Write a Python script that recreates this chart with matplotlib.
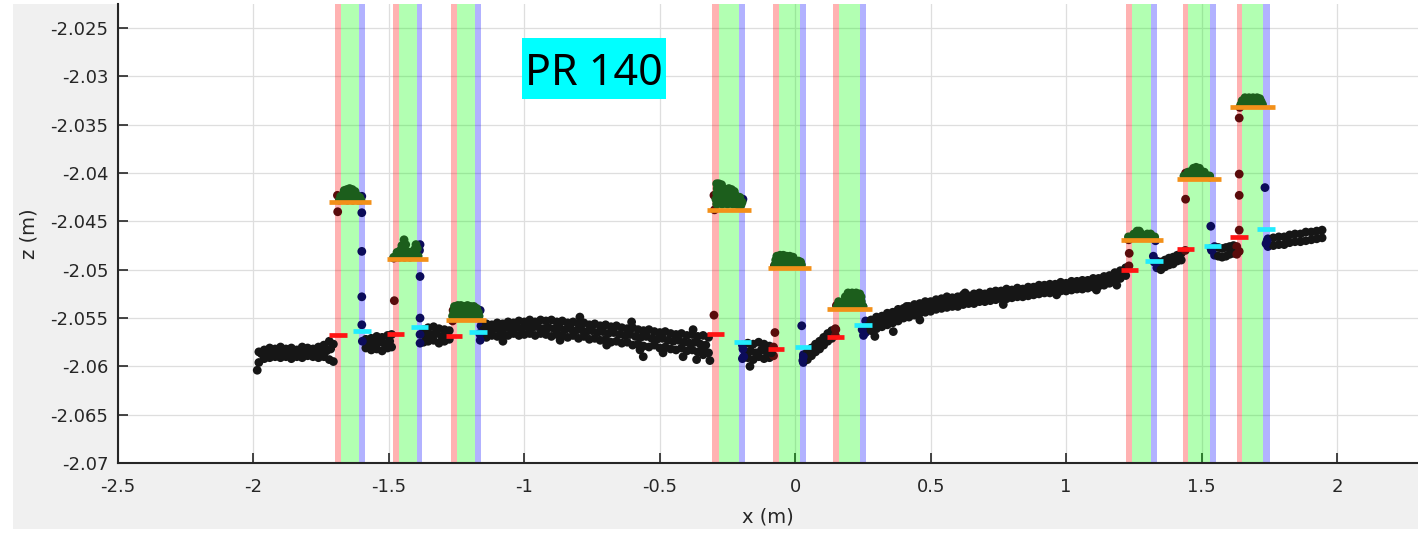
import matplotlib
matplotlib.use("Agg")
import matplotlib.pyplot as plt
from matplotlib.patches import Rectangle

# ------------------------------------------------------------------ data
x_ticks = [-2.5, -2, -1.5, -1, -0.5, 0, 0.5, 1, 1.5, 2]
x_tick_labels = ["-2.5", "-2", "-1.5", "-1", "-0.5", "0", "0.5", "1", "1.5", "2"]
z_ticks = [-2.07, -2.065, -2.06, -2.055, -2.05, -2.045, -2.04, -2.035, -2.03, -2.025]
z_tick_labels = ["-2.07", "-2.065", "-2.06", "-2.055", "-2.05", "-2.045",
                 "-2.04", "-2.035", "-2.03", "-2.025"]
x_range = [-2.5, 2.299]
z_range = [-2.07, -2.0225]

# shaded zones per feature (red | green | blue)
band_red_start = [-1.699, -1.486, -1.272, -0.306, -0.081, 0.138, 1.221, 1.430, 1.629]
band_green_start = [-1.675, -1.463, -1.250, -0.282, -0.060, 0.161, 1.244, 1.451, 1.650]
band_blue_start = [-1.610, -1.398, -1.182, -0.207, 0.018, 0.239, 1.313, 1.531, 1.727]
band_blue_end = [-1.588, -1.376, -1.160, -0.186, 0.040, 0.260, 1.336, 1.552, 1.752]

# top level (orange), left base (red), right base (cyan)
top_z = [-2.0430, -2.0489, -2.0552, -2.0438, -2.0498, -2.0541, -2.0469, -2.0406, -2.0332]
top_x0 = [-1.720, -1.506, -1.291, -0.325, -0.102, 0.119, 1.201, 1.410, 1.606]
top_x1 = [-1.567, -1.357, -1.143, -0.165, 0.060, 0.282, 1.358, 1.570, 1.772]
left_z = [-2.0568, -2.0567, -2.0569, -2.0566, -2.0582, -2.0570, -2.0500, -2.0479, -2.0466]
left_x0 = [-1.720, -1.506, -1.291, -0.325, -0.102, 0.119, 1.201, 1.410, 1.606]
left_x1 = [-1.653, -1.443, -1.230, -0.262, -0.041, 0.181, 1.266, 1.473, 1.670]
right_z = [-2.0563, -2.0559, -2.0564, -2.0575, -2.0580, -2.0557, -2.0491, -2.0475, -2.0458]
right_x0 = [-1.633, -1.418, -1.204, -0.226, -0.001, 0.218, 1.293, 1.509, 1.705]
right_x1 = [-1.566, -1.357, -1.139, -0.165, 0.060, 0.282, 1.358, 1.570, 1.772]

# ground profile: stations with an upper and a lower point
ground_x = [
    -1.98, -1.96, -1.94, -1.92, -1.90, -1.88, -1.86, -1.84, -1.82, -1.80, -1.78, -1.76, -1.74, -1.72, -1.705,
    -1.585, -1.565, -1.545, -1.525, -1.505, -1.49,
    -1.372, -1.355, -1.335, -1.315, -1.295, -1.277,
    -1.16, -1.14, -1.12, -1.10, -1.08, -1.06, -1.04, -1.02, -1.00, -0.98,
    -0.96, -0.94, -0.92, -0.90, -0.88, -0.86, -0.84, -0.82, -0.80, -0.78,
    -0.76, -0.74, -0.72, -0.70, -0.68, -0.66, -0.64, -0.62, -0.60, -0.58,
    -0.56, -0.54, -0.52, -0.50, -0.48, -0.46, -0.44, -0.42, -0.40, -0.38,
    -0.36, -0.34, -0.32,
    -0.195, -0.175, -0.155, -0.135, -0.115, -0.095, -0.08,
    0.03, 0.045, 0.06, 0.075, 0.09, 0.105, 0.12, 0.135, 0.148,
    0.26, 0.28, 0.30, 0.32, 0.34, 0.36, 0.38, 0.40, 0.42, 0.44,
    0.46, 0.48, 0.50, 0.52, 0.54, 0.56, 0.58, 0.60, 0.62, 0.64,
    0.66, 0.68, 0.70, 0.72, 0.74, 0.76, 0.78, 0.80, 0.82, 0.84,
    0.86, 0.88, 0.90, 0.92, 0.94, 0.96, 0.98, 1.00, 1.02, 1.04,
    1.06, 1.08, 1.10, 1.12, 1.14, 1.16, 1.18, 1.20, 1.22,
    1.335, 1.35, 1.365, 1.38, 1.395, 1.41, 1.425,
    1.548, 1.562, 1.576, 1.590, 1.604, 1.618, 1.630,
    1.745, 1.765, 1.785, 1.805, 1.825, 1.845, 1.865, 1.885, 1.905, 1.925, 1.945,
]
ground_z_upper = [
    -2.0585, -2.0583, -2.0581, -2.0582, -2.0580, -2.0582, -2.0581, -2.0583, -2.0580, -2.0581, -2.0582, -2.0580, -2.0578, -2.0574, -2.0577,
    -2.0572, -2.0571, -2.0569, -2.0570, -2.0568, -2.0567,
    -2.0562, -2.0560, -2.0559, -2.0561, -2.0562, -2.0563,
    -2.0558, -2.0556, -2.0557, -2.0555, -2.0556, -2.0554, -2.0555, -2.0553, -2.0554, -2.0552,
    -2.0554, -2.0552, -2.0553, -2.0552, -2.0554, -2.0553, -2.0555, -2.0554, -2.0556, -2.0555,
    -2.0557, -2.0556, -2.0558, -2.0557, -2.0559, -2.0558, -2.0560, -2.0561, -2.0560, -2.0562,
    -2.0563, -2.0562, -2.0564, -2.0565, -2.0564, -2.0566, -2.0567, -2.0566, -2.0568, -2.0567,
    -2.0569, -2.0568, -2.0570,
    -2.0578, -2.0576, -2.0577, -2.0575, -2.0577, -2.0579, -2.0580,
    -2.0588, -2.0585, -2.0581, -2.0577, -2.0574, -2.0570, -2.0566, -2.0563, -2.0561,
    -2.0553, -2.0552, -2.0549, -2.0548, -2.0545, -2.0544, -2.0541, -2.0540, -2.0538, -2.0536,
    -2.0535, -2.0533, -2.0533, -2.0531, -2.0530, -2.0528, -2.0529, -2.0528, -2.0526, -2.0527,
    -2.0525, -2.0524, -2.0525, -2.0523, -2.0522, -2.0522, -2.0520, -2.0521, -2.0519, -2.0520,
    -2.0518, -2.0518, -2.0516, -2.0516, -2.0515, -2.0515, -2.0513, -2.0514, -2.0512, -2.0512,
    -2.0511, -2.0511, -2.0509, -2.0509, -2.0507, -2.0506, -2.0503, -2.0501, -2.0498,
    -2.0491, -2.0492, -2.0490, -2.0488, -2.0487, -2.0485, -2.0483,
    -2.0476, -2.0477, -2.0478, -2.0477, -2.0476, -2.0475, -2.0476,
    -2.0468, -2.0467, -2.0466, -2.0466, -2.0464, -2.0463, -2.0463, -2.0461, -2.0461, -2.0460, -2.0459,
]
ground_z_lower = [
    -2.0596, -2.0592, -2.0591, -2.0590, -2.0591, -2.0590, -2.0592, -2.0590, -2.0591, -2.0589, -2.0590, -2.0591, -2.0590, -2.0593, -2.0595,
    -2.0581, -2.0583, -2.0582, -2.0584, -2.0581, -2.0580,
    -2.0575, -2.0574, -2.0573, -2.0576, -2.0574, -2.0572,
    -2.0569, -2.0570, -2.0568, -2.0569, -2.0567, -2.0568, -2.0566, -2.0568, -2.0567, -2.0566,
    -2.0568, -2.0566, -2.0567, -2.0569, -2.0567, -2.0568, -2.0570, -2.0568, -2.0571, -2.0569,
    -2.0572, -2.0571, -2.0573, -2.0572, -2.0575, -2.0574, -2.0576, -2.0575, -2.0578, -2.0577,
    -2.0579, -2.0580, -2.0578, -2.0581, -2.0580, -2.0582, -2.0583, -2.0581, -2.0584, -2.0583,
    -2.0585, -2.0584, -2.0586,
    -2.0592, -2.0591, -2.0593, -2.0590, -2.0592, -2.0591, -2.0589,
    -2.0596, -2.0593, -2.0589, -2.0585, -2.0582, -2.0578, -2.0574, -2.0571, -2.0568,
    -2.0565, -2.0563, -2.0561, -2.0559, -2.0557, -2.0555, -2.0553, -2.0550, -2.0549, -2.0547,
    -2.0545, -2.0544, -2.0543, -2.0541, -2.0540, -2.0539, -2.0538, -2.0538, -2.0536, -2.0535,
    -2.0535, -2.0533, -2.0533, -2.0532, -2.0531, -2.0530, -2.0530, -2.0529, -2.0528, -2.0528,
    -2.0527, -2.0526, -2.0525, -2.0524, -2.0524, -2.0523, -2.0522, -2.0522, -2.0521, -2.0520,
    -2.0520, -2.0519, -2.0518, -2.0517, -2.0516, -2.0514, -2.0512, -2.0509, -2.0506,
    -2.0498, -2.0500, -2.0497, -2.0495, -2.0494, -2.0491, -2.0490,
    -2.0485, -2.0486, -2.0487, -2.0486, -2.0484, -2.0483, -2.0484,
    -2.0476, -2.0475, -2.0474, -2.0474, -2.0472, -2.0471, -2.0471, -2.0470, -2.0469, -2.0468, -2.0467,
]
# middle row of the ground band (staggered stations)
ground_mid_x = [
    -1.97, -1.95, -1.93, -1.91, -1.89, -1.87, -1.85, -1.83, -1.81, -1.79, -1.77, -1.75, -1.73, -1.715,
    -1.575, -1.555, -1.535, -1.515, -1.497,
    -1.365, -1.345, -1.325, -1.305, -1.285,
    -1.15, -1.13, -1.11, -1.09, -1.07, -1.05, -1.03, -1.01, -0.99, -0.97,
    -0.95, -0.93, -0.91, -0.89, -0.87, -0.85, -0.83, -0.81, -0.79, -0.77,
    -0.75, -0.73, -0.71, -0.69, -0.67, -0.65, -0.63, -0.61, -0.59, -0.57,
    -0.55, -0.53, -0.51, -0.49, -0.47, -0.45, -0.43, -0.41, -0.39, -0.37,
    -0.35, -0.33,
    -0.185, -0.165, -0.145, -0.125, -0.105, -0.088,
    0.27, 0.29, 0.31, 0.33, 0.35, 0.37, 0.39, 0.41, 0.43, 0.45,
    0.47, 0.49, 0.51, 0.53, 0.55, 0.57, 0.59, 0.61, 0.63, 0.65,
    0.67, 0.69, 0.71, 0.73, 0.75, 0.77, 0.79, 0.81, 0.83, 0.85,
    0.87, 0.89, 0.91, 0.93, 0.95, 0.97, 0.99, 1.01, 1.03, 1.05,
    1.07, 1.09, 1.11, 1.13, 1.15, 1.17, 1.19, 1.21,
]
ground_mid_z = [
    -2.0587, -2.0586, -2.0587, -2.0585, -2.0586, -2.0587, -2.0586, -2.0585, -2.0586, -2.0587, -2.0585, -2.0586, -2.0584, -2.0582,
    -2.0577, -2.0576, -2.0575, -2.0577, -2.0574,
    -2.0568, -2.0567, -2.0566, -2.0569, -2.0568,
    -2.0562, -2.0563, -2.0561, -2.0562, -2.0560, -2.0561, -2.0560, -2.0561, -2.0559, -2.0560,
    -2.0559, -2.0561, -2.0560, -2.0561, -2.0560, -2.0562, -2.0561, -2.0563, -2.0562, -2.0564,
    -2.0563, -2.0565, -2.0564, -2.0566, -2.0565, -2.0567, -2.0568, -2.0567, -2.0569, -2.0570,
    -2.0569, -2.0571, -2.0572, -2.0571, -2.0573, -2.0574, -2.0573, -2.0575, -2.0576, -2.0575,
    -2.0577, -2.0578,
    -2.0585, -2.0584, -2.0586, -2.0583, -2.0585, -2.0586,
    -2.0558, -2.0557, -2.0554, -2.0553, -2.0550, -2.0549, -2.0546, -2.0545, -2.0542, -2.0542,
    -2.0539, -2.0539, -2.0537, -2.0536, -2.0534, -2.0534, -2.0533, -2.0533, -2.0531, -2.0531,
    -2.0529, -2.0529, -2.0528, -2.0528, -2.0526, -2.0526, -2.0525, -2.0524, -2.0524, -2.0523,
    -2.0522, -2.0522, -2.0520, -2.0520, -2.0519, -2.0519, -2.0518, -2.0517, -2.0517, -2.0516,
    -2.0515, -2.0515, -2.0513, -2.0512, -2.0511, -2.0509, -2.0506, -2.0504,
]
# scattered single ground points
ground_out_x = [-1.986, -1.079, -0.868, -0.795, -0.696, -0.604, -0.573, -0.561, -0.488, -0.414,
                -0.377, -0.364, -0.34, -0.315, -0.167, 0.294, 0.362, 0.411, 0.460, 0.627,
                0.768, 0.768, 0.965, 1.112, 1.187]
ground_out_z = [-2.0604, -2.0574, -2.0573, -2.0549, -2.0578, -2.0554, -2.0583, -2.0590, -2.0586, -2.0590,
                -2.0562, -2.0593, -2.0588, -2.0594, -2.0600, -2.0569, -2.0564, -2.0538, -2.0552, -2.0524,
                -2.0536, -2.0523, -2.0526, -2.0521, -2.0516]

# transition points on the step edges
edge_right_x = [-1.600, -1.600, -1.600, -1.600, -1.598, -1.600,
                -1.385, -1.385, -1.385, -1.385, -1.385, -1.387,
                -1.163, -1.163, -1.165,
                -0.193, -0.193, -0.190,
                0.024, 0.028, 0.030,
                0.247, 0.250, 0.252,
                1.322, 1.325, 1.330,
                1.534, 1.537, 1.535, 1.530,
                1.734, 1.738, 1.742]
edge_right_z = [-2.0441, -2.0481, -2.0528, -2.0557, -2.0574, -2.0424,
                -2.0474, -2.0507, -2.0550, -2.0567, -2.0576, -2.0480,
                -2.0542, -2.0573, -2.0566,
                -2.0427, -2.0582, -2.0590,
                -2.0558, -2.0594, -2.0590,
                -2.0562, -2.0538, -2.0568,
                -2.0486, -2.0492, -2.0470,
                -2.0455, -2.0480, -2.0478, -2.0404,
                -2.0415, -2.0473, -2.0470]
edge_left_x = [-1.689, -1.690,
               -1.480, -1.482,
               -1.263, -1.265,
               -0.300, -0.300, -0.298,
               -0.075, -0.077,
               0.150, 0.152,
               1.233, 1.231, 1.232,
               1.441, 1.441, 1.440,
               1.639, 1.639, 1.639, 1.639, 1.639, 1.641]
edge_left_z = [-2.0440, -2.0423,
               -2.0532, -2.0488,
               -2.0542, -2.0553,
               -2.0547, -2.0423, -2.0438,
               -2.0565, -2.0496,
               -2.0562, -2.0537,
               -2.0483, -2.0469, -2.0496,
               -2.0427, -2.0400, -2.0480,
               -2.0343, -2.0401, -2.0423, -2.0459, -2.0481, -2.0332]

# points on the top of each feature
green_x = [
    -1.683, -1.673, -1.663, -1.653, -1.643, -1.633, -1.623, -1.613, -1.603,
    -1.678, -1.668, -1.658, -1.648, -1.638, -1.628, -1.618, -1.608,
    -1.665, -1.655, -1.645, -1.635, -1.625,
    -1.482, -1.472, -1.462, -1.452, -1.442, -1.432, -1.422, -1.412, -1.402, -1.392,
    -1.470, -1.458, -1.446, -1.434, -1.420, -1.405, -1.395,
    -1.452, -1.444, -1.438, -1.400,
    -1.265, -1.255, -1.245, -1.235, -1.225, -1.215, -1.205, -1.195, -1.185, -1.175, -1.167,
    -1.260, -1.250, -1.240, -1.230, -1.220, -1.210, -1.200, -1.190, -1.180, -1.170,
    -1.258, -1.246, -1.234, -1.222, -1.210, -1.198, -1.186, -1.176,
    -0.290, -0.280, -0.270, -0.260, -0.250, -0.240, -0.230, -0.220, -0.210, -0.200,
    -0.293, -0.283, -0.273, -0.263, -0.253, -0.243, -0.233, -0.223, -0.213, -0.203, -0.196,
    -0.290, -0.280, -0.270, -0.260, -0.250, -0.240, -0.230, -0.220, -0.205,
    -0.288, -0.278, -0.268, -0.255, -0.245, -0.235, -0.225,
    -0.290, -0.282, -0.272,
    -0.075, -0.065, -0.055, -0.045, -0.035, -0.025, -0.015, -0.005, 0.005, 0.015, 0.023,
    -0.072, -0.060, -0.048, -0.036, -0.024, -0.012, 0.000, 0.012, 0.020,
    -0.068, -0.056, -0.044, -0.032, -0.020, -0.008,
    0.155, 0.165, 0.175, 0.185, 0.195, 0.205, 0.215, 0.225, 0.235, 0.245, 0.250,
    0.160, 0.172, 0.184, 0.196, 0.208, 0.220, 0.232, 0.244,
    0.185, 0.197, 0.209, 0.221, 0.233, 0.243,
    0.195, 0.210, 0.225, 0.238,
    1.230, 1.240, 1.250, 1.260, 1.270, 1.280, 1.290, 1.300, 1.310, 1.320, 1.327,
    1.250, 1.262, 1.274, 1.300, 1.312,
    1.262, 1.270,
    1.435, 1.445, 1.455, 1.465, 1.475, 1.485, 1.495, 1.505, 1.515, 1.525, 1.530,
    1.450, 1.462, 1.474, 1.486, 1.498, 1.510,
    1.470, 1.480, 1.492,
    1.645, 1.655, 1.665, 1.675, 1.685, 1.695, 1.705, 1.715, 1.725,
    1.650, 1.662, 1.674, 1.686, 1.698, 1.710, 1.720,
    1.660, 1.675, 1.690, 1.705, 1.715,
]
green_z = [
    -2.0428, -2.0427, -2.0427, -2.0428, -2.0427, -2.0428, -2.0427, -2.0428, -2.0428,
    -2.0424, -2.0422, -2.0421, -2.0422, -2.0421, -2.0422, -2.0423, -2.0425,
    -2.0418, -2.0417, -2.0416, -2.0417, -2.0419,
    -2.0487, -2.0486, -2.0487, -2.0486, -2.0487, -2.0486, -2.0487, -2.0486, -2.0485, -2.0486,
    -2.0482, -2.0480, -2.0478, -2.0481, -2.0482, -2.0479, -2.0478,
    -2.0475, -2.0469, -2.0474, -2.0474,
    -2.0548, -2.0549, -2.0548, -2.0549, -2.0548, -2.0549, -2.0548, -2.0549, -2.0548, -2.0549, -2.0548,
    -2.0543, -2.0544, -2.0543, -2.0542, -2.0543, -2.0544, -2.0543, -2.0542, -2.0543, -2.0544,
    -2.0538, -2.0537, -2.0537, -2.0538, -2.0537, -2.0538, -2.0538, -2.0540,
    -2.0432, -2.0431, -2.0432, -2.0431, -2.0432, -2.0431, -2.0432, -2.0432, -2.0433, -2.0433,
    -2.0427, -2.0426, -2.0427, -2.0426, -2.0427, -2.0426, -2.0427, -2.0428, -2.0428, -2.0429, -2.0430,
    -2.0421, -2.0422, -2.0421, -2.0422, -2.0421, -2.0422, -2.0423, -2.0423, -2.0425,
    -2.0416, -2.0417, -2.0416, -2.0417, -2.0416, -2.0417, -2.0419,
    -2.0411, -2.0411, -2.0412,
    -2.0495, -2.0495, -2.0495, -2.0495, -2.0495, -2.0495, -2.0495, -2.0495, -2.0495, -2.0495, -2.0495,
    -2.0490, -2.0489, -2.0490, -2.0489, -2.0490, -2.0490, -2.0491, -2.0491, -2.0492,
    -2.0486, -2.0485, -2.0485, -2.0486, -2.0486, -2.0487,
    -2.0538, -2.0537, -2.0537, -2.0538, -2.0537, -2.0537, -2.0538, -2.0537, -2.0537, -2.0538, -2.0538,
    -2.0533, -2.0534, -2.0533, -2.0532, -2.0532, -2.0531, -2.0532, -2.0533,
    -2.0528, -2.0527, -2.0527, -2.0526, -2.0527, -2.0528,
    -2.0524, -2.0524, -2.0524, -2.0525,
    -2.0466, -2.0466, -2.0466, -2.0465, -2.0465, -2.0466, -2.0466, -2.0466, -2.0466, -2.0466, -2.0466,
    -2.0463, -2.0462, -2.0462, -2.0463, -2.0463,
    -2.0460, -2.0460,
    -2.0403, -2.0402, -2.0402, -2.0401, -2.0401, -2.0401, -2.0402, -2.0402, -2.0402, -2.0403, -2.0403,
    -2.0399, -2.0398, -2.0397, -2.0397, -2.0398, -2.0399,
    -2.0395, -2.0394, -2.0395,
    -2.0329, -2.0329, -2.0329, -2.0329, -2.0329, -2.0329, -2.0329, -2.0329, -2.0329,
    -2.0325, -2.0325, -2.0325, -2.0325, -2.0325, -2.0325, -2.0326,
    -2.0322, -2.0322, -2.0322, -2.0322, -2.0323,
]

label_text = "PR 140"
x_label = "x (m)"
z_label = "z (m)"

assert len(ground_x) == len(ground_z_upper) == len(ground_z_lower)
assert len(ground_mid_x) == len(ground_mid_z)
assert len(green_x) == len(green_z)
assert len(edge_left_x) == len(edge_left_z)
assert len(edge_right_x) == len(edge_right_z)
assert len(ground_out_x) == len(ground_out_z)

# ------------------------------------------------------------------ figure
W, H = 1418, 533
fig = plt.figure(figsize=(W / 100, H / 100), dpi=100, facecolor="white")
fig.patches.append(Rectangle((13 / W, 4 / H), 1 - 13 / W, 1 - 8 / H,
                             transform=fig.transFigure, facecolor="#f0f0f0",
                             edgecolor="none", zorder=-10))

ax = fig.add_axes([118 / W, 70 / H, 1300 / W, 459 / H])
ax.set_facecolor("white")
ax.set_xlim(*x_range)
ax.set_ylim(*z_range)

for r0, g0, b0, b1 in zip(band_red_start, band_green_start, band_blue_start, band_blue_end):
    ax.axvspan(r0, g0, color=(1, 0, 0), alpha=0.3, lw=0, zorder=1)
    ax.axvspan(g0, b0, color=(0, 1, 0), alpha=0.3, lw=0, zorder=1)
    ax.axvspan(b0, b1, color=(0, 0, 1), alpha=0.3, lw=0, zorder=1)


def point_color(x):
    for r0, g0, b0, b1 in zip(band_red_start, band_green_start, band_blue_start, band_blue_end):
        if r0 <= x <= g0:
            return "#5a0c0c"
        if b0 <= x <= b1:
            return "#0c0c5a"
    return "#161616"


MS = 40
all_gx = list(ground_x) + list(ground_x) + list(ground_mid_x) + list(ground_out_x)
all_gz = list(ground_z_upper) + list(ground_z_lower) + list(ground_mid_z) + list(ground_out_z)
cols = [point_color(v) for v in all_gx]
ax.scatter(all_gx, all_gz, s=MS, c=cols, edgecolors="none", zorder=3)

ax.scatter(edge_left_x, edge_left_z, s=MS, c="#5a0c0c", edgecolors="none", zorder=3)
ax.scatter(edge_right_x, edge_right_z, s=MS, c="#0c0c5a", edgecolors="none", zorder=3)
ax.scatter(green_x, green_z, s=MS, c="#1c5e1c", edgecolors="none", zorder=3)

ax.hlines(top_z, top_x0, top_x1, colors="#f39019", lw=3.4, zorder=5)
ax.hlines(left_z, left_x0, left_x1, colors="#ff1414", lw=3.4, zorder=5)
ax.hlines(right_z, right_x0, right_x1, colors="#22ecff", lw=3.4, zorder=5)

# axes styling
ax.set_axisbelow(True)
ax.grid(True, color="#dedede", linewidth=0.9)
for side in ("top", "right"):
    ax.spines[side].set_visible(False)
for side in ("left", "bottom"):
    ax.spines[side].set_color("#262626")
    ax.spines[side].set_linewidth(1.5)
    ax.spines[side].set_zorder(6)
ax.set_xticks(x_ticks)
ax.set_xticklabels(x_tick_labels)
ax.set_yticks(z_ticks)
ax.set_yticklabels(z_tick_labels)
ax.tick_params(axis="both", direction="in", length=7, width=1.2, color="#262626",
               labelsize=13, labelcolor="#262626")
ax.tick_params(axis="x", pad=11)
ax.tick_params(axis="y", pad=7)
for lab in ax.get_xticklabels() + ax.get_yticklabels():
    lab.set_fontfamily("DejaVu Sans")

ax.set_xlabel(x_label, fontsize=14, color="#262626", family="DejaVu Sans")
ax.set_ylabel(z_label, fontsize=14, color="#262626", family="DejaVu Sans")
ax.xaxis.set_label_coords(0.5, -0.098)
ax.yaxis.set_label_coords(-0.0615, 0.5)

# title tag
fig.patches.append(Rectangle((522 / W, 1 - 98.7 / H), 144 / W, 60.4 / H,
                             transform=fig.transFigure, facecolor="#00ffff",
                             edgecolor="none", zorder=20))
fig.text(594 / W, 1 - 85 / H, label_text, ha="center", va="baseline",
         fontsize=31, family="Noto Sans", color="black", zorder=21)

fig.savefig("out.png", dpi=100, facecolor=fig.get_facecolor())
